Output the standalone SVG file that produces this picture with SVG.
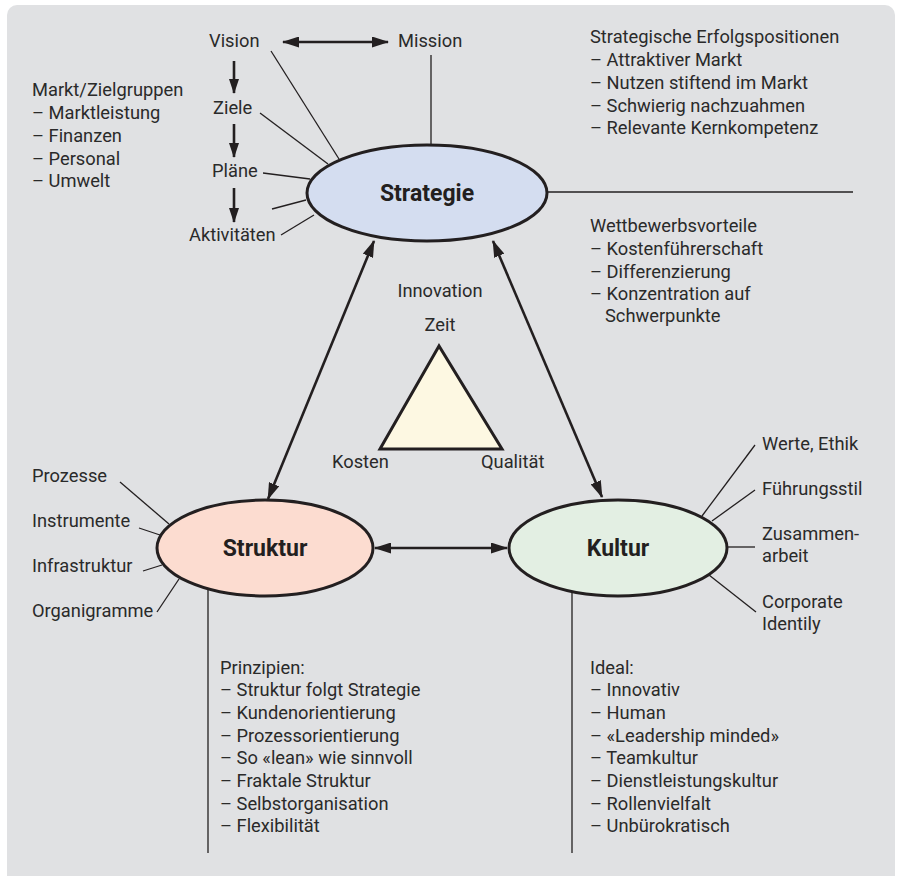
<svg xmlns="http://www.w3.org/2000/svg" width="898" height="876" viewBox="0 0 898 876">
<defs>
<style>
text{font-family:Roboto,"Liberation Sans",sans-serif;font-size:18.3px;fill:#2a2a2a}
.b{font-weight:bold;font-size:23px;fill:#231f20;text-anchor:middle}
.m{text-anchor:middle}
.thin{stroke:#231f20;stroke-width:1.3;fill:none}
.arr{stroke:#231f20;stroke-width:2.6;fill:none}
.node{stroke:#231f20;stroke-width:3}
</style>
<marker id="ah" viewBox="0 0 17 11" refX="16" refY="5.5" markerWidth="17" markerHeight="11" markerUnits="userSpaceOnUse" orient="auto-start-reverse">
<path d="M0,0 L17,5.5 L0,11 z" fill="#231f20"/>
</marker>
<marker id="ahs" viewBox="0 0 15 10" refX="14" refY="5" markerWidth="15" markerHeight="10" markerUnits="userSpaceOnUse" orient="auto">
<path d="M0,0 L15,5 L0,10 z" fill="#231f20"/>
</marker>
</defs>
<rect x="7" y="5" width="888" height="900" rx="10" fill="#e0e1e3"/>

<g id="connectors">
<line class="arr" x1="283" y1="42" x2="388" y2="42" marker-start="url(#ah)" marker-end="url(#ah)"/>
<line class="arr" x1="234" y1="61" x2="234" y2="93" marker-end="url(#ahs)"/>
<line class="arr" x1="234" y1="124" x2="234" y2="157" marker-end="url(#ahs)"/>
<line class="arr" x1="234" y1="188" x2="234" y2="222" marker-end="url(#ahs)"/>
<line class="thin" x1="271" y1="51" x2="339" y2="159"/>
<line class="thin" x1="260" y1="113" x2="328" y2="164"/>
<line class="thin" x1="263" y1="173" x2="310" y2="179"/>
<line class="thin" x1="272" y1="209" x2="306" y2="200"/>
<line class="thin" x1="281" y1="235" x2="314" y2="215"/>
<line class="thin" x1="431" y1="55" x2="431" y2="145"/>
<line class="thin" x1="547" y1="192" x2="853" y2="192"/>
<line class="arr" x1="374" y1="241" x2="268" y2="499" marker-start="url(#ah)" marker-end="url(#ah)"/>
<line class="arr" x1="493" y1="241" x2="602" y2="497" marker-start="url(#ah)" marker-end="url(#ah)"/>
<line class="arr" x1="375" y1="548" x2="507" y2="548" marker-start="url(#ah)" marker-end="url(#ah)"/>
<line class="thin" x1="120" y1="482" x2="169" y2="524"/>
<line class="thin" x1="139" y1="528" x2="160" y2="535"/>
<line class="thin" x1="143" y1="571" x2="162" y2="565"/>
<line class="thin" x1="157" y1="612" x2="179" y2="579"/>
<line class="thin" x1="208" y1="590" x2="208" y2="853"/>
<line class="thin" x1="702" y1="516" x2="755" y2="445"/>
<line class="thin" x1="712" y1="521" x2="755" y2="490"/>
<line class="thin" x1="727" y1="547" x2="755" y2="547"/>
<line class="thin" x1="709" y1="575" x2="756" y2="612"/>
<line class="thin" x1="572" y1="593" x2="572" y2="853"/>
</g>

<g id="strategie">
<ellipse class="node" cx="427" cy="193" rx="120" ry="48" fill="#d4ddf0"/>
<text class="b" x="427" y="201">Strategie</text>
</g>
<g id="struktur">
<ellipse class="node" cx="265" cy="548" rx="108" ry="48" fill="#fcdcd0"/>
<text class="b" x="265" y="556">Struktur</text>
</g>
<g id="kultur">
<ellipse class="node" cx="618" cy="548" rx="109" ry="48" fill="#e3efe3"/>
<text class="b" x="618" y="556">Kultur</text>
</g>
<g id="dreieck">
<polygon class="node" points="439,346 380,449 502,449" fill="#fdf8e2"/>
<text class="m" x="440" y="297">Innovation</text>
<text class="m" x="440" y="331">Zeit</text>
<text x="332" y="468">Kosten</text>
<text x="481" y="468">Qualität</text>
</g>

<g id="vision"><text x="209" y="47">Vision</text></g>
<g id="mission"><text x="398" y="47">Mission</text></g>
<g id="ziele"><text x="213" y="114">Ziele</text></g>
<g id="plaene"><text x="212" y="177">Pläne</text></g>
<g id="aktivitaeten"><text x="189" y="241">Aktivitäten</text></g>

<g id="markt">
<text x="32" y="96">Markt/Zielgruppen</text>
<text x="32" y="119">– Marktleistung</text>
<text x="32" y="142">– Finanzen</text>
<text x="32" y="165">– Personal</text>
<text x="32" y="187">– Umwelt</text>
</g>

<g id="erfolgspositionen">
<text x="590" y="43">Strategische Erfolgspositionen</text>
<text x="590" y="66">– Attraktiver Markt</text>
<text x="590" y="89">– Nutzen stiftend im Markt</text>
<text x="590" y="112">– Schwierig nachzuahmen</text>
<text x="590" y="134">– Relevante Kernkompetenz</text>
</g>

<g id="wettbewerb">
<text x="590" y="232">Wettbewerbsvorteile</text>
<text x="590" y="255">– Kostenführerschaft</text>
<text x="590" y="278">– Differenzierung</text>
<text x="590" y="300">– Konzentration auf</text>
<text x="605" y="322">Schwerpunkte</text>
</g>

<g id="struktur-labels">
<text x="32" y="482">Prozesse</text>
<text x="32" y="527">Instrumente</text>
<text x="32" y="572">Infrastruktur</text>
<text x="32" y="617">Organigramme</text>
</g>

<g id="kultur-labels">
<text x="762" y="450">Werte, Ethik</text>
<text x="762" y="495">Führungsstil</text>
<text x="762" y="540">Zusammen-</text>
<text x="762" y="562">arbeit</text>
<text x="762" y="608">Corporate</text>
<text x="762" y="630">Identily</text>
</g>

<g id="prinzipien">
<text x="220" y="674">Prinzipien:</text>
<text x="220" y="696">– Struktur folgt Strategie</text>
<text x="220" y="719">– Kundenorientierung</text>
<text x="220" y="742">– Prozessorientierung</text>
<text x="220" y="764">– So «lean» wie sinnvoll</text>
<text x="220" y="787">– Fraktale Struktur</text>
<text x="220" y="810">– Selbstorganisation</text>
<text x="220" y="832">– Flexibilität</text>
</g>

<g id="ideal">
<text x="590" y="674">Ideal:</text>
<text x="590" y="696">– Innovativ</text>
<text x="590" y="719">– Human</text>
<text x="590" y="742">– «Leadership minded»</text>
<text x="590" y="764">– Teamkultur</text>
<text x="590" y="787">– Dienstleistungskultur</text>
<text x="590" y="810">– Rollenvielfalt</text>
<text x="590" y="832">– Unbürokratisch</text>
</g>
</svg>
